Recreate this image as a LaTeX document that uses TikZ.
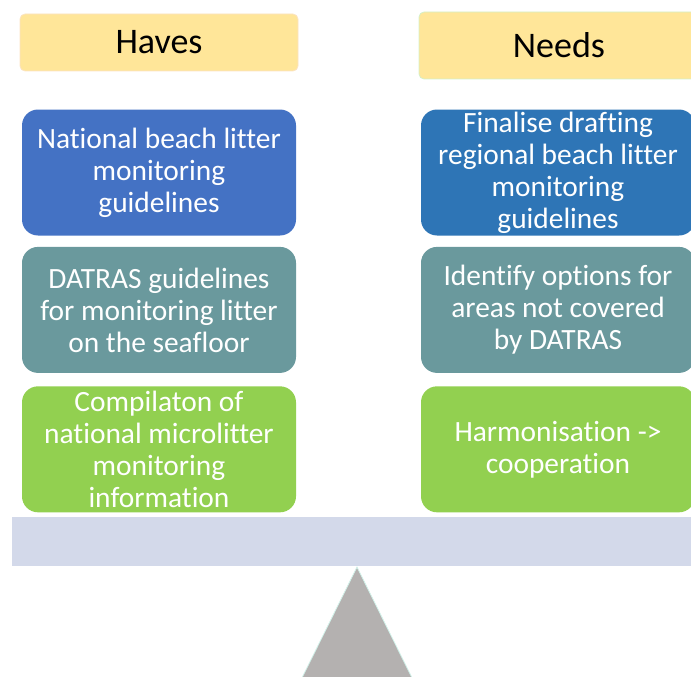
\documentclass[tikz,border=0pt]{standalone}
\usepackage{fontspec}
\setmainfont{Carlito}[Ligatures=NoCommon]
\usepackage{xcolor}
\usetikzlibrary{positioning}
\definecolor{headfill}{HTML}{FFE699}
\definecolor{headedge}{HTML}{FBE3C4}
\definecolor{neededge}{HTML}{D4F0C8}
\definecolor{haveblue}{HTML}{4472C4}
\definecolor{needblue}{HTML}{2E75B6}
\definecolor{teal}{HTML}{6A999D}
\definecolor{leaf}{HTML}{92D050}
\definecolor{beam}{HTML}{D3D9EA}
\definecolor{pivot}{HTML}{B4B1B0}
\definecolor{pivotedge}{HTML}{D2F2EA}
\tikzset{
  header/.style  = {rectangle, rounded corners=5pt, draw=headedge, thick,
                    fill=headfill, minimum width=278pt, minimum height=57pt,
                    inner sep=0pt, font=\fontsize{36pt}{40pt}\selectfont},
  item/.style    = {rectangle, rounded corners=16pt, draw=none, text=white,
                    minimum width=274pt, minimum height=126pt, inner sep=0pt,
                    align=center, font=\fontsize{29.4pt}{32pt}\selectfont},
  plan/.style    = {item, fill=haveblue},
  review/.style  = {item, fill=teal},
  coop/.style    = {item, fill=leaf},
}
\begin{document}
\begin{tikzpicture}[x=1pt, y=-1pt, node distance=12pt]
  \useasboundingbox (0,0) rectangle (691,677);

  % headers
  \node[header] (haves) at (159,42.5) {Haves};
  \node[header, draw=neededge, minimum width=280pt, minimum height=67pt] (needs) at (559,45.5) {Needs};

  % what we have
  \node[plan] (hbeach) at (159,172.5)
       {National beach litter\\monitoring\\guidelines};
  \node[review, below=11pt of hbeach] (hfloor)
       {DATRAS guidelines\\for monitoring litter\\on the seafloor};
  \node[coop, below=13pt of hfloor] (hmicro)
       {Compilaton of\\national microlitter\\monitoring\\information};

  % what we need
  \node[plan, fill=needblue] (nbeach) at (558,172.5)
       {Finalise drafting\\regional beach litter\\monitoring\\guidelines};
  \node[review, below=11pt of nbeach] (nfloor)
       {Identify options for\\areas not covered\\by DATRAS};
  \node[coop, below=13pt of nfloor] (nmicro)
       {Harmonisation ->\\cooperation};

  % the scale
  \fill[beam] (12,517) rectangle (700,566);
  \filldraw[fill=pivot, draw=pivotedge, thick] (357,567) -- (291,700) -- (423,700) -- cycle;

\end{tikzpicture}
\end{document}
